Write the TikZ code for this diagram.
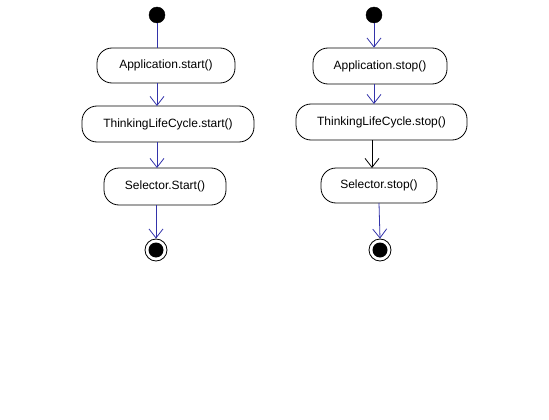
\documentclass[tikz,border=0pt]{standalone}
\usepackage{fontspec}
\setmainfont{Liberation Sans}
\usetikzlibrary{arrows.meta}
\definecolor{flow}{RGB}{51,51,170}
\tikzset{
  act/.style={draw=black, line width=0.8pt, rounded corners=15pt, fill=white, inner sep=0pt, font=\fontsize{12}{14}\selectfont},
  initial/.style={circle, fill=black, draw=black, minimum size=16pt, inner sep=0pt},
  final/.style={circle, draw=black, fill=white, line width=0.8pt, minimum size=22pt, inner sep=0pt, path picture={\fill[black] (path picture bounding box.center) circle (7.5pt);}},
  flowline/.style={draw=flow, line width=0.8pt},
  flowarrow/.style={flowline, -{Straight Barb[length=9pt, width=14pt, line width=0.8pt]}},
  blackarrow/.style={draw=black, line width=0.8pt, -{Straight Barb[length=9pt, width=14pt, line width=0.8pt]}},
}
\begin{document}
\begin{tikzpicture}[x=1pt, y=-1pt]
\useasboundingbox (0,0) rectangle (549,420);
% left
\node[initial] (s1) at (157,15) {};
\node[act, minimum width=138pt, minimum height=35pt] (a1) at (166,65.5) {Application.start()};
\node[act, minimum width=172pt, minimum height=36pt] (t1) at (168,124) {ThinkingLifeCycle.start()};
\node[act, minimum width=122pt, minimum height=37pt] (l1) at (165,186.5) {Selector.Start()};
\node[final] (e1) at (156,250) {};
\draw[flowline] (s1.south) -- (s1.south |- a1.north);
\draw[flowarrow] (157,83) -- (157,106);
\draw[flowarrow] (157,142) -- (157,168);
\draw[flowarrow] (156,205) -- (e1.north);
% right
\node[initial] (s2) at (374,15) {};
\node[act, minimum width=134pt, minimum height=36pt] (a2) at (380,66) {Application.stop()};
\node[act, minimum width=171pt, minimum height=36pt] (t2) at (381.5,122) {ThinkingLifeCycle.stop()};
\node[act, minimum width=116pt, minimum height=35pt] (l2) at (379,185.5) {Selector.stop()};
\node[final] (e2) at (380,250) {};
\draw[flowarrow] (s2.south) -- (s2.south |- a2.north);
\draw[flowarrow] (374,84) -- (374,104);
\draw[blackarrow] (372,140) -- (372,168);
\draw[flowarrow] (379,203) -- (e2.north);
\end{tikzpicture}
\end{document}
